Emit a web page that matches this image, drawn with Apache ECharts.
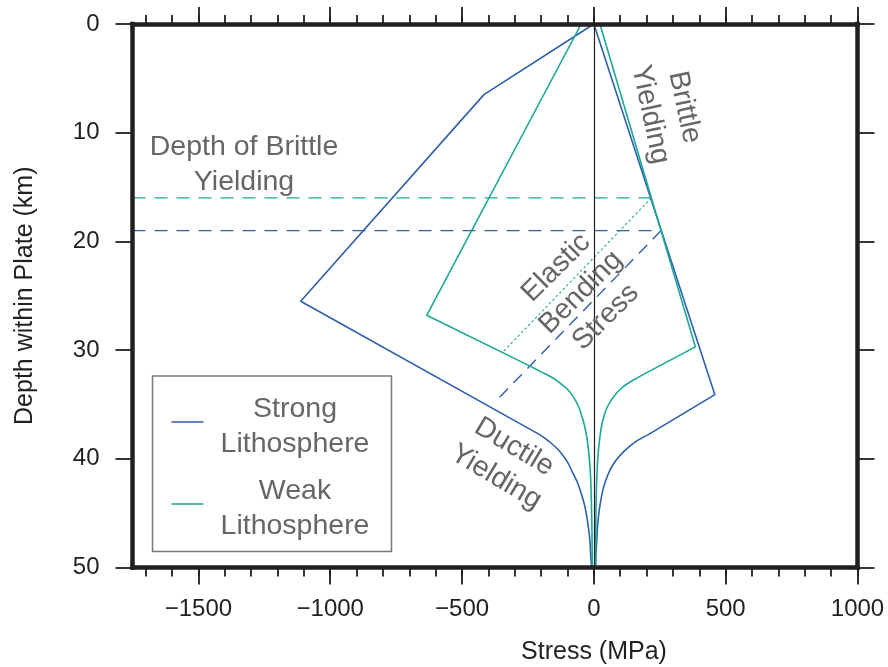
<!DOCTYPE html>
<html>
<head>
<meta charset="utf-8">
<script src="https://cdn.jsdelivr.net/npm/echarts@6/dist/echarts.min.js"></script>
<style>
  html, body { margin: 0; padding: 0; background: #ffffff; }
  #chart { width: 888px; height: 667px; }
</style>
</head>
<body>
<div id="chart"></div>
<script>
// Yield strength envelopes: stress in MPa (compression negative) against depth in km.
// Each envelope is split into its ductile (curved) and brittle (straight) branches.

// Strong lithosphere
const strongDuctileLeftStress = [-9, -10, -13, -16, -22, -29, -37, -48, -62, -80, -100, -130, -165, -204];
const strongDuctileLeftDepth = [50, 49.6, 48.4, 47.2, 46.1, 45.0, 44.1, 43.2, 42.2, 41.3, 40.3, 39.3, 38.5, 37.8];
const strongBrittleStress = [-204, -1112, -417, 0, 459, 205];
const strongBrittleDepth = [37.8, 25.5, 6.5, 0, 34.1, 37.8];
const strongDuctileRightStress = [205, 160, 115, 82, 62, 45, 34, 25, 19, 14, 11, 8, 6.5];
const strongDuctileRightDepth = [37.8, 38.4, 39.3, 40.2, 41.0, 42.0, 42.9, 44.0, 45.0, 46.2, 47.5, 48.8, 50];

// Weak lithosphere
const weakDuctileLeftStress = [-6, -7, -9, -11, -14, -19, -25, -34, -45, -60, -78, -100, -130, -160, -200, -240];
const weakDuctileLeftDepth = [50, 47, 44.5, 42.5, 41.0, 39.5, 38.3, 37.1, 36.1, 35.1, 34.3, 33.6, 33.0, 32.5, 32.0, 31.5];
const weakBrittleLeftStress = [-240, -634, -48];
const weakBrittleLeftDepth = [31.5, 26.8, 0];
const weakBrittleRightStress = [23, 385, 206];
const weakBrittleRightDepth = [0, 29.7, 32.0];
const weakDuctileRightStress = [206, 150, 115, 88, 66, 48, 36, 27, 21, 16, 13, 10, 8, 7, 6];
const weakDuctileRightDepth = [32.0, 32.75, 33.3, 33.9, 34.6, 35.4, 36.3, 37.3, 38.4, 39.6, 40.8, 42.5, 45, 47.5, 50];

// Depth where each envelope reaches brittle yielding (strong, weak), and the tensile stress there
const brittleDepths = [19.0, 16.0];
const brittleStress = [255, 218];

// Elastic bending stress profiles through the elastic core
const bendStrongStress = [255, -368];
const bendStrongDepth = [19.0, 34.6];
const bendWeakStress = [218, -344];
const bendWeakDepth = [16.0, 30.15];

// Axis ticks
const xTicks = [-1500, -1000, -500, 0, 500, 1000];
const yTicks = [0, 10, 20, 30, 40, 50];
const X_MIN = -1750, X_MAX = 1000;
const xMinorTicks = [];
for (let v = -1700; v <= X_MAX; v += 100) xMinorTicks.push(v);

const legendLabels = ['Strong\nLithosphere', 'Weak\nLithosphere'];

const BLUE = '#2d5fab';
const TEAL = '#1ba895';
const INK = '#231f20';
const GREY = '#666666';
const FONT = '"Liberation Sans", Arial, Helvetica, sans-serif';

const pairs = (xs, ys) => xs.map((x, i) => [x, ys[i]]);

const frameLine = { show: true, onZero: false, lineStyle: { color: INK, width: 4.5, cap: 'square' } };
const tickStyle = { color: INK, width: 1.8 };
const fmtStress = v => (v < 0 ? '\u2212' + Math.abs(v) : String(v));

function xAxisDef(position, major) {
  const labelled = major && position === 'bottom';
  return {
    type: 'value', position: position, min: X_MIN, max: X_MAX, z: 10,
    axisLine: major ? frameLine : { show: false, onZero: false },
    axisTick: { show: true, inside: false, customValues: major ? xTicks : xMinorTicks,
      length: major ? 17 : 9, lineStyle: tickStyle },
    axisLabel: labelled ? {
      show: true, customValues: xTicks, margin: 30, fontSize: 24, color: INK,
      fontFamily: FONT, formatter: fmtStress
    } : { show: false },
    splitLine: { show: false },
    name: labelled ? 'Stress (MPa)' : '',
    nameLocation: 'middle', nameGap: 72,
    nameTextStyle: { fontSize: 25, color: INK, fontFamily: FONT, padding: [0, 0, 0, 198] }
  };
}

function yAxisDef(position) {
  const left = position === 'left';
  return {
    type: 'value', position: position, inverse: true, min: yTicks[0], max: yTicks[yTicks.length - 1],
    interval: yTicks[1] - yTicks[0], z: 10,
    axisLine: frameLine,
    axisTick: { show: true, inside: false, length: 17, lineStyle: tickStyle },
    axisLabel: left ? { show: true, margin: 33, fontSize: 24, color: INK, fontFamily: FONT } : { show: false },
    splitLine: { show: false },
    name: left ? 'Depth within Plate (km)' : '',
    nameLocation: 'middle', nameGap: 95,
    nameTextStyle: { fontSize: 25, color: INK, fontFamily: FONT }
  };
}

const lineSeries = (name, data, color, width, type, smooth) => ({
  name: name, type: 'line', data: data, xAxisIndex: 0, yAxisIndex: 0,
  symbol: 'none', showSymbol: false, silent: true, z: 3, smooth: smooth || false,
  lineStyle: { color: color, width: width, type: type },
  itemStyle: { color: color }
});

const chart = echarts.init(document.getElementById('chart'), null, { renderer: 'canvas' });

chart.setOption({
  animation: false,
  backgroundColor: '#ffffff',
  grid: { left: 132.5, right: 30.5, top: 24, bottom: 99.5, containLabel: false, outerBoundsMode: 'none' },
  xAxis: [xAxisDef('bottom', true), xAxisDef('bottom', false), xAxisDef('top', true), xAxisDef('top', false)],
  yAxis: [yAxisDef('left'), yAxisDef('right')],
  series: [
    lineSeries('Brittle depth (strong)', pairs([X_MIN, brittleStress[0]], [brittleDepths[0], brittleDepths[0]]), BLUE, 1.2, [13, 9]),
    lineSeries('Brittle depth (weak)', pairs([X_MIN, brittleStress[1]], [brittleDepths[1], brittleDepths[1]]), TEAL, 1.2, [13, 9]),
    lineSeries('Bending stress (strong)', pairs(bendStrongStress, bendStrongDepth), BLUE, 1.4, [12, 8]),
    lineSeries('Bending stress (weak)', pairs(bendWeakStress, bendWeakDepth), TEAL, 1.1, [2.5, 2.5]),
    Object.assign(lineSeries('Strong Lithosphere', pairs(strongBrittleStress, strongBrittleDepth), BLUE, 1.6, 'solid'), {
      markLine: {
        silent: true, symbol: 'none', label: { show: false },
        lineStyle: { color: INK, width: 1.2, type: 'solid' },
        data: [{ xAxis: 0 }]
      }
    }),
    lineSeries('Strong Lithosphere', pairs(strongDuctileLeftStress, strongDuctileLeftDepth), BLUE, 1.6, 'solid', 0.3),
    lineSeries('Strong Lithosphere', pairs(strongDuctileRightStress, strongDuctileRightDepth), BLUE, 1.6, 'solid', 0.3),
    lineSeries('Weak Lithosphere', pairs(weakBrittleLeftStress, weakBrittleLeftDepth), TEAL, 1.6, 'solid'),
    lineSeries('Weak Lithosphere', pairs(weakBrittleRightStress, weakBrittleRightDepth), TEAL, 1.6, 'solid'),
    lineSeries('Weak Lithosphere', pairs(weakDuctileLeftStress, weakDuctileLeftDepth), TEAL, 1.6, 'solid', 0.3),
    lineSeries('Weak Lithosphere', pairs(weakDuctileRightStress, weakDuctileRightDepth), TEAL, 1.6, 'solid', 0.3)
  ]
});

// Annotation labels, anchored in data space (stress, depth); angle in degrees, counter-clockwise positive
const notes = [
  { text: 'Depth of Brittle\nYielding', at: [-1327, 12.9], angle: 0 },
  { text: 'Brittle\nYielding', at: [279, 8.0], angle: -78 },
  { text: 'Elastic\nBending\nStress', at: [-49, 24.7], angle: 45 },
  { text: 'Ductile\nYielding', at: [-337, 40.3], angle: -31 }
];

const graphics = notes.map(n => {
  const p = chart.convertToPixel({ xAxisIndex: 0, yAxisIndex: 0 }, n.at);
  return {
    type: 'text', x: p[0], y: p[1], rotation: n.angle * Math.PI / 180, silent: true, z: 10,
    style: { text: n.text, x: 0, y: 0, align: 'center', verticalAlign: 'middle',
      fontSize: 28.5, fontFamily: FONT, fill: GREY, lineHeight: 35 }
  };
});

// Legend box with a short line sample beside each two-line label
const legendColors = [BLUE, TEAL];
const box = { x: 152.5, y: 376, w: 239, h: 175.5 };
graphics.push({
  type: 'rect', silent: true, z: 8,
  shape: { x: box.x, y: box.y, width: box.w, height: box.h },
  style: { fill: '#ffffff', stroke: '#7a7a7a', lineWidth: 1.5 }
});
legendLabels.forEach((label, i) => {
  const cy = box.y + 51 + i * 82;
  graphics.push({
    type: 'line', silent: true, z: 9,
    shape: { x1: box.x + 19, y1: cy - 5, x2: box.x + 51, y2: cy - 5 },
    style: { stroke: legendColors[i], lineWidth: 1.6 }
  });
  graphics.push({
    type: 'text', silent: true, z: 9, x: box.x + 142.5, y: cy,
    style: { text: label, x: 0, y: 0, align: 'center', verticalAlign: 'middle',
      fontSize: 28.5, fontFamily: FONT, fill: GREY, lineHeight: 35 }
  });
});

chart.setOption({ graphic: graphics });
</script>
</body>
</html>
